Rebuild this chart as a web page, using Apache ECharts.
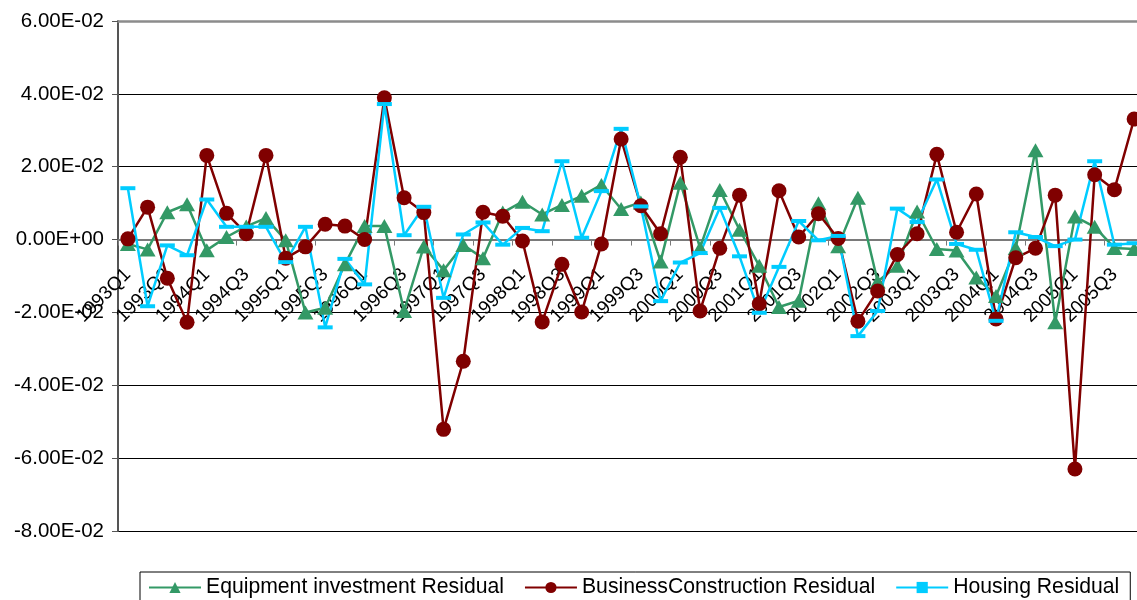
<!DOCTYPE html>
<html>
<head>
<meta charset="utf-8">
<script src="https://cdn.jsdelivr.net/npm/echarts@6/dist/echarts.min.js"></script>
<style>
  html, body { margin: 0; padding: 0; background: #fff; }
  #chart { width: 1137px; height: 600px; }
</style>
</head>
<body>
<div id="chart"></div>
<script>
// Quarterly residuals, 1993Q1 - 2005Q4
const quarters = [
  '1993Q1','1993Q2','1993Q3','1993Q4','1994Q1','1994Q2','1994Q3','1994Q4',
  '1995Q1','1995Q2','1995Q3','1995Q4','1996Q1','1996Q2','1996Q3','1996Q4',
  '1997Q1','1997Q2','1997Q3','1997Q4','1998Q1','1998Q2','1998Q3','1998Q4',
  '1999Q1','1999Q2','1999Q3','1999Q4','2000Q1','2000Q2','2000Q3','2000Q4',
  '2001Q1','2001Q2','2001Q3','2001Q4','2002Q1','2002Q2','2002Q3','2002Q4',
  '2003Q1','2003Q2','2003Q3','2003Q4','2004Q1','2004Q2','2004Q3','2004Q4',
  '2005Q1','2005Q2','2005Q3','2005Q4'
];

const equipmentResidual = [
  -0.0012, -0.0027, 0.0075, 0.0097, -0.0029, 0.0007, 0.0036, 0.0059,
  -0.0002, -0.0200, -0.0187, -0.0068, 0.0037, 0.0037, -0.0196, -0.0019,
  -0.0084, -0.0015, -0.0051, 0.0074, 0.0104, 0.0069, 0.0095, 0.0120,
  0.0150, 0.0084, 0.0102, -0.0060, 0.0156, -0.0023, 0.0136, 0.0027,
  -0.0072, -0.0185, -0.0168, 0.0100, -0.0018, 0.0115, -0.0115, -0.0072,
  0.0077, -0.0026, -0.0030, -0.0104, -0.0155, -0.0023, 0.0245, -0.0227,
  0.0063, 0.0035, -0.0023, -0.0026
];

const businessConstructionResidual = [
  0.0002, 0.0089, -0.0106, -0.0227, 0.0231, 0.0072, 0.0016, 0.0231,
  -0.0051, -0.0020, 0.0042, 0.0037, 0.0000, 0.0389, 0.0115, 0.0074,
  -0.0521, -0.0334, 0.0075, 0.0064, -0.0004, -0.0226, -0.0068, -0.0199,
  -0.0012, 0.0276, 0.0093, 0.0016, 0.0226, -0.0196, -0.0024, 0.0122,
  -0.0176, 0.0134, 0.0007, 0.0071, 0.0003, -0.0224, -0.0141, -0.0041,
  0.0016, 0.0234, 0.0020, 0.0125, -0.0218, -0.0050, -0.0024, 0.0122,
  -0.0630, 0.0178, 0.0137, 0.0331
];

const housingResidual = [
  0.0141, -0.0183, -0.0016, -0.0043, 0.0110, 0.0035, 0.0035, 0.0035,
  -0.0062, 0.0035, -0.0241, -0.0053, -0.0123, 0.0372, 0.0012, 0.0090,
  -0.0160, 0.0014, 0.0047, -0.0014, 0.0032, 0.0023, 0.0215, 0.0005,
  0.0133, 0.0304, 0.0091, -0.0169, -0.0063, -0.0037, 0.0087, -0.0046,
  -0.0201, -0.0075, 0.0051, -0.0002, 0.0010, -0.0265, -0.0196, 0.0085,
  0.0048, 0.0165, -0.0012, -0.0028, -0.0223, 0.0020, 0.0007, -0.0018,
  0.0000, 0.0215, -0.0014, -0.0010
];

const seriesNames = [
  'Equipment investment Residual',
  'BusinessConstruction Residual',
  'Housing Residual'
];

const Y_MIN = -0.08;
const Y_MAX = 0.06;
const Y_STEP = 0.02;

const FONT = '"Liberation Sans", Arial, sans-serif';

// Plot box (pixels); the right edge runs slightly past the page
const GRID = { left: 118, top: 21, width: 1026, height: 510 };

// Scientific notation with a two-digit exponent, e.g. -2.00E-02
function sci(v) {
  if (Math.abs(v) < 1e-12) return '0.00E+00';
  const parts = v.toExponential(2).split('e');
  const n = parseInt(parts[1], 10);
  const a = Math.abs(n);
  return parts[0] + 'E' + (n < 0 ? '-' : '+') + (a < 10 ? '0' : '') + a;
}

// Lift the category axis (line, ticks and labels) from the bottom edge to y = 0
const zeroOffset = -GRID.height * (0 - Y_MIN) / (Y_MAX - Y_MIN);

const chart = echarts.init(document.getElementById('chart'), null, { renderer: 'canvas' });

function lineSeries(name, data, color, symbol, size) {
  return {
    name: name,
    type: 'line',
    data: data,
    xAxisIndex: 0,
    yAxisIndex: 0,
    symbol: symbol,
    symbolSize: size,
    showAllSymbol: true,
    lineStyle: { color: color, width: 2.5 },
    itemStyle: { color: color, borderWidth: 0 },
    emphasis: { disabled: true }
  };
}

chart.setOption({
  animation: false,
  backgroundColor: '#ffffff',
  grid: {
    left: GRID.left, top: GRID.top, width: GRID.width, height: GRID.height,
    containLabel: false,
    outerBoundsMode: 'none'
  },
  xAxis: [
    {
      type: 'category',
      data: quarters,
      boundaryGap: true,
      position: 'bottom',
      offset: zeroOffset,
      axisLine: { onZero: false, lineStyle: { color: '#7a7a7a', width: 2 } },
      axisTick: { show: true, interval: 1, length: 6, lineStyle: { color: '#7a7a7a', width: 1 } },
      axisLabel: {
        interval: 1,
        rotate: 45,
        margin: 32,
        color: '#000',
        fontSize: 19,
        fontFamily: FONT,
        hideOverlap: false
      },
      splitLine: { show: false }
    },
    {
      // plot-area top border
      type: 'category',
      data: quarters,
      position: 'top',
      axisLine: { onZero: false, lineStyle: { color: '#8c8c8c', width: 2.5 } },
      axisTick: { show: false },
      axisLabel: { show: false },
      splitLine: { show: false }
    }
  ],
  yAxis: {
    type: 'value',
    min: Y_MIN,
    max: Y_MAX,
    interval: Y_STEP,
    axisLine: { show: true, onZero: false, lineStyle: { color: '#555', width: 2 } },
    axisTick: { show: true, length: 6, lineStyle: { color: '#555', width: 1 } },
    axisLabel: {
      formatter: sci,
      color: '#000',
      fontSize: 20.5,
      fontFamily: FONT,
      margin: 14
    },
    splitLine: { show: true, lineStyle: { color: '#000', width: 1 } }
  },
  legend: {
    data: seriesNames,
    left: 140,
    top: 572,
    orient: 'horizontal',
    padding: [5, 11, 8, 8],
    itemGap: 20,
    itemWidth: 52,
    itemHeight: 14,
    borderColor: '#000',
    borderWidth: 1,
    backgroundColor: '#fff',
    textStyle: { color: '#000', fontSize: 21.2, fontFamily: FONT },
    selectedMode: false
  },
  series: [
    lineSeries(seriesNames[0], equipmentResidual, '#339966', 'triangle', [16, 14]),
    lineSeries(seriesNames[1], businessConstructionResidual, '#800000', 'circle', 15),
    lineSeries(seriesNames[2], housingResidual, '#00ccff', 'rect', [15, 4])
  ]
});
</script>
</body>
</html>
